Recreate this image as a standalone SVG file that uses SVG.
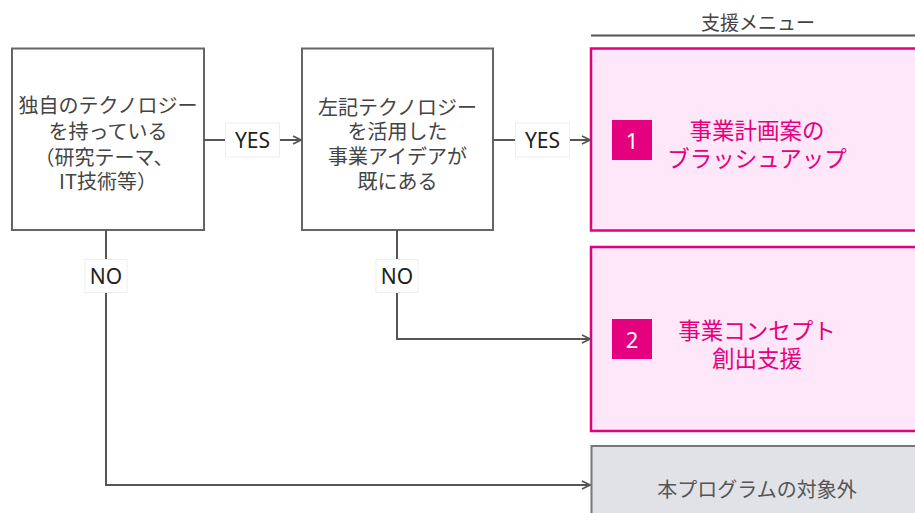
<svg xmlns="http://www.w3.org/2000/svg" width="915" height="513" viewBox="0 0 915 513">
<style>
text{font-family:"Noto Sans CJK JP","Noto Sans",sans-serif;text-anchor:middle;dominant-baseline:central}
.box{fill:#fff;stroke:#666;stroke-width:2}
.bt{font-size:20px;fill:#444}
.pink{fill:#fde7f8;stroke:#e4007f;stroke-width:2.5}
.pt{font-size:22.5px;fill:#e4007f}
.badge{fill:#e4007f}
.bn{font-size:22px;fill:#fff;font-family:"Noto Sans",sans-serif}
.conn{fill:none;stroke:#555;stroke-width:2}
.lbl{fill:#fff;stroke:#eee;stroke-width:1}
.lt{font-size:21px;fill:#222;font-family:"Noto Sans",sans-serif}
</style>
<defs>
<marker id="arr" viewBox="0 0 10 10" refX="9" refY="5" markerWidth="10" markerHeight="10" markerUnits="userSpaceOnUse" orient="auto">
<path d="M1,1 L9,5 L1,9" fill="none" stroke="#555" stroke-width="1.8"/>
</marker>
</defs>
<g id="header">
<text x="758" y="21" style="font-size:19px;fill:#444">支援メニュー</text>
<line x1="591" y1="35.5" x2="915" y2="35.5" stroke="#555" stroke-width="2"/>
</g>
<g id="q1">
<rect class="box" x="12" y="48.5" width="192" height="181.5"/>
<text class="bt"><tspan x="108" y="104">独自のテクノロジー</tspan><tspan x="108" y="130">を持っている</tspan><tspan x="104" y="156">（研究テーマ、</tspan><tspan x="108" y="180">IT技術等）</tspan></text>
</g>
<g id="q2">
<rect class="box" x="302" y="48.5" width="191" height="181.5"/>
<text class="bt"><tspan x="397.5" y="106">左記テクノロジー</tspan><tspan x="397.5" y="130">を活用した</tspan><tspan x="397.5" y="155">事業アイデアが</tspan><tspan x="397.5" y="180">既にある</tspan></text>
</g>
<g id="menu1">
<rect class="pink" x="591" y="48.5" width="330" height="182"/>
<rect class="badge" x="612" y="120" width="40" height="40"/>
<text class="bn" x="632" y="140">1</text>
<text class="pt"><tspan x="757" y="129">事業計画案の</tspan><tspan x="757" y="157">ブラッシュアップ</tspan></text>
</g>
<g id="menu2">
<rect class="pink" x="591" y="247" width="330" height="184"/>
<rect class="badge" x="612" y="319" width="40" height="40"/>
<text class="bn" x="632" y="339">2</text>
<text class="pt"><tspan x="757" y="329">事業コンセプト</tspan><tspan x="757" y="357">創出支援</tspan></text>
</g>
<g id="outside">
<rect x="591.5" y="446" width="330" height="80" fill="#e1e2e8" stroke="#777" stroke-width="2"/>
<text x="757" y="488" style="font-size:20px;fill:#555">本プログラムの対象外</text>
</g>
<g id="connectors">
<path class="conn" d="M204,140 H301" marker-end="url(#arr)"/>
<path class="conn" d="M493,140 H590" marker-end="url(#arr)"/>
<path class="conn" d="M397,230 V339 H590" marker-end="url(#arr)"/>
<path class="conn" d="M106,230 V485 H590" marker-end="url(#arr)"/>
<rect class="lbl" x="225.5" y="123" width="54" height="34"/>
<text class="lt" x="252.5" y="140">YES</text>
<rect class="lbl" x="515.5" y="123" width="54" height="34"/>
<text class="lt" x="542.5" y="140">YES</text>
<rect class="lbl" x="85" y="259.5" width="42" height="33"/>
<text class="lt" x="106" y="276">NO</text>
<rect class="lbl" x="376" y="259.5" width="42" height="33"/>
<text class="lt" x="397" y="276">NO</text>
</g>
</svg>
